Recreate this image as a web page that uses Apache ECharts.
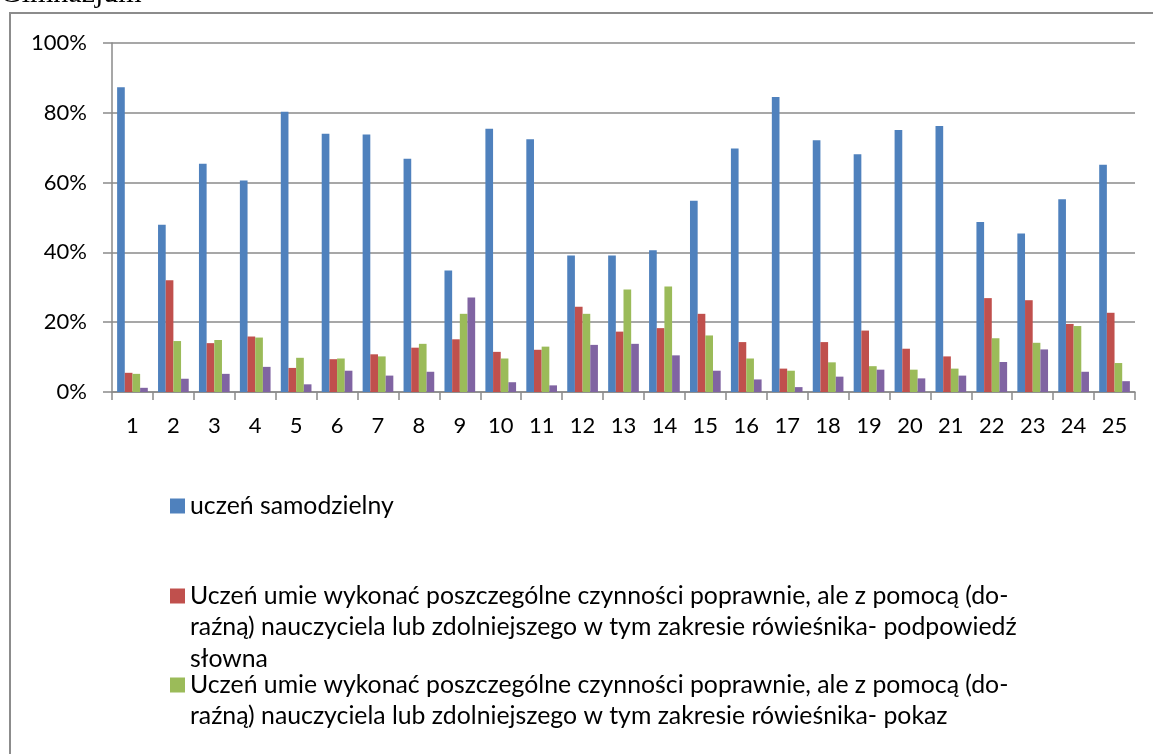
<!DOCTYPE html>
<html>
<head>
<meta charset="utf-8">
<script src="https://cdn.jsdelivr.net/npm/echarts@6/dist/echarts.min.js"></script>
<style>
  html, body { margin: 0; padding: 0; background: #fff; }
  #chart { width: 1153px; height: 754px; }
</style>
</head>
<body>
<div id="chart"></div>
<script>
// kategorie (numery zadań)
var categories = ['1', '2', '3', '4', '5', '6', '7', '8', '9', '10', '11', '12', '13',
  '14', '15', '16', '17', '18', '19', '20', '21', '22', '23', '24', '25']

// wartości w procentach
var samodzielny = [87.3, 47.9, 65.4, 60.6, 80.3, 74.0, 73.8, 66.8, 34.8, 75.4, 72.4, 39.1, 39.1,
  40.6, 54.8, 69.8, 84.5, 72.1, 68.1, 75.1, 76.2, 48.7, 45.4, 55.2, 65.1]
var podpowiedz = [5.5, 32.0, 14.0, 15.9, 6.9, 9.4, 10.8, 12.7, 15.1, 11.5, 12.1, 24.4, 17.3,
  18.3, 22.4, 14.3, 6.7, 14.3, 17.6, 12.4, 10.2, 26.9, 26.3, 19.5, 22.7]
var pokaz = [5.2, 14.6, 14.9, 15.6, 9.8, 9.6, 10.2, 13.8, 22.4, 9.6, 13.0, 22.4, 29.4,
  30.2, 16.2, 9.6, 6.1, 8.5, 7.4, 6.4, 6.7, 15.4, 14.1, 18.9, 8.3]
var czwarta = [1.2, 3.8, 5.2, 7.2, 2.2, 6.1, 4.7, 5.8, 27.1, 2.8, 1.9, 13.5, 13.8,
  10.5, 6.1, 3.6, 1.4, 4.4, 6.4, 3.9, 4.7, 8.6, 12.2, 5.8, 3.1]

// y ticks
var yMin = 0
var yMax = 100
var yStep = 20

// legenda - linie tekstu
var name1 = ['uczeń samodzielny']
var name2 = ['Uczeń umie wykonać poszczególne czynności poprawnie, ale z pomocą (do-',
  'raźną) nauczyciela lub zdolniejszego w tym zakresie rówieśnika- podpowiedź',
  'słowna']
var name3 = ['Uczeń umie wykonać poszczególne czynności poprawnie, ale z pomocą (do-',
  'raźną) nauczyciela lub zdolniejszego w tym zakresie rówieśnika- pokaz']
var name4 = ['seria 4']

var colors = ['#4F81BD', '#C0504D', '#9BBB59', '#8064A2']
var font = 'Lato'
var legendSize = 24.8
var lineStep = 31.5
var gridColor = '#8a8a8a'

function fullName(lines) { return lines.join(' ') }

function legendFor(lines, centerY) {
  return {
    show: true,
    left: 170,
    top: centerY - lineStep / 2,
    orient: 'vertical',
    icon: 'rect',
    itemWidth: 15,
    itemHeight: 15,
    padding: 0,
    data: [fullName(lines)],
    formatter: function () { return lines[0] },
    textStyle: { fontFamily: font, fontSize: legendSize, color: '#000', lineHeight: lineStep }
  }
}

// kolejne linie opisów legendy
var extraLines = []
function addLines(lines, firstY) {
  for (var i = 1; i < lines.length; i++) {
    extraLines.push({
      type: 'text',
      x: 190,
      y: firstY + lineStep * i,
      style: {
        text: lines[i],
        font: legendSize + 'px ' + font,
        fill: '#000',
        verticalAlign: 'middle'
      },
      silent: true
    })
  }
}
addLines(name2, 596)
addLines(name3, 685)

function bar(lines, data, color) {
  return {
    name: fullName(lines),
    type: 'bar',
    data: data,
    barGap: '0%',
    barCategoryGap: '25%',
    itemStyle: { color: color },
    animation: false
  }
}

var chart = echarts.init(document.getElementById('chart'))
chart.setOption({
  animation: false,
  color: colors,
  grid: { left: 112, right: 18, top: 43, bottom: 362 },
  legend: [
    legendFor(name1, 506),
    legendFor(name2, 596),
    legendFor(name3, 685)
  ],
  xAxis: {
    type: 'category',
    data: categories,
    boundaryGap: true,
    axisLine: { lineStyle: { color: gridColor, width: 1.5 } },
    axisTick: { show: true, length: 8, lineStyle: { color: gridColor, width: 1.5 } },
    axisLabel: { color: '#000', fontFamily: font, fontSize: 22, margin: 23 }
  },
  yAxis: {
    type: 'value',
    min: yMin,
    max: yMax,
    interval: yStep,
    axisLine: { show: true, lineStyle: { color: gridColor, width: 1.5 } },
    axisTick: { show: true, length: 9, lineStyle: { color: gridColor, width: 1.5 } },
    axisLabel: { color: '#000', fontFamily: font, fontSize: 22, margin: 25, formatter: '{value}%' },
    splitLine: { show: true, lineStyle: { color: gridColor, width: 1.5 } }
  },
  series: [
    bar(name1, samodzielny, colors[0]),
    bar(name2, podpowiedz, colors[1]),
    bar(name3, pokaz, colors[2]),
    bar(name4, czwarta, colors[3])
  ],
  graphic: [
    {
      type: 'rect',
      shape: { x: 10, y: 13, width: 1300, height: 900 },
      style: { fill: 'none', stroke: '#8c8c8c', lineWidth: 2 },
      silent: true
    },
    {
      type: 'text',
      x: 0,
      y: 9,
      style: {
        text: 'Gimnazjum',
        font: '30px "Liberation Serif"',
        fill: '#000',
        verticalAlign: 'bottom'
      },
      silent: true
    }
  ].concat(extraLines)
})
</script>
</body>
</html>
